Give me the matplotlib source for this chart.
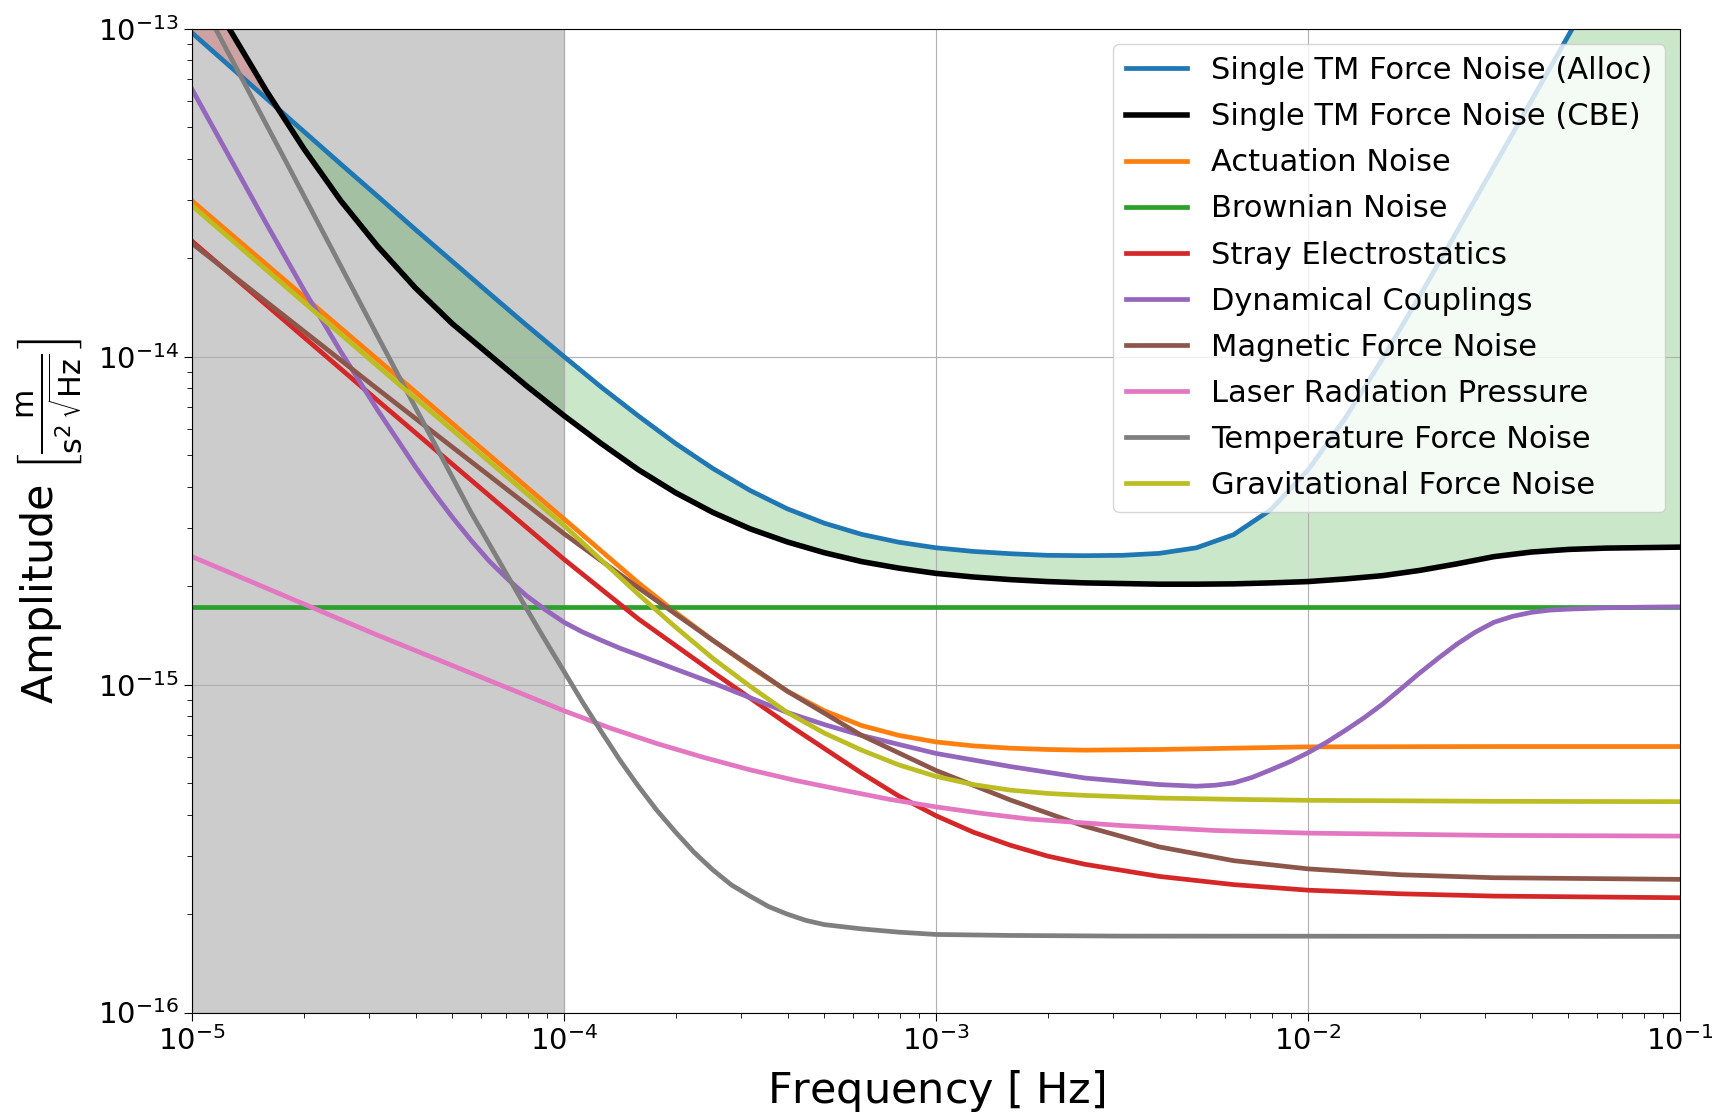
"""Single test-mass force noise budget: allocation vs current best estimate."""

import matplotlib

matplotlib.use("Agg")
import matplotlib.pyplot as plt  # noqa: E402
import numpy as np  # noqa: E402

# values, stored as log10(frequency / Hz), log10(amplitude)
budget_logf = [-5.0, -4.9, -4.8, -4.7, -4.6, -4.5, -4.4, -4.3, -4.2, -4.1, -4.0, -3.9,
               -3.8, -3.7, -3.6, -3.5, -3.4, -3.3, -3.2, -3.1, -3.0, -2.9, -2.8, -2.7,
               -2.6, -2.5, -2.4, -2.3, -2.2, -2.1, -2.0, -1.9, -1.8, -1.7, -1.6, -1.5,
               -1.4, -1.3, -1.2, -1.0]
alloc_log = [-13.013, -13.113, -13.213, -13.313, -13.413, -13.512, -13.612, -13.71,
             -13.808, -13.905, -14.0, -14.093, -14.181, -14.265, -14.341, -14.408,
             -14.464, -14.508, -14.542, -14.566, -14.583, -14.594, -14.601, -14.606,
             -14.607, -14.606, -14.600, -14.583, -14.543, -14.467, -14.346, -14.188,
             -14.007, -13.816, -13.619, -13.420, -13.221, -13.021, -12.821, -12.421]
cbe_log = [-12.80, -13.0, -13.19, -13.365, -13.525, -13.665, -13.79, -13.90, -13.995,
           -14.09, -14.18, -14.265, -14.345, -14.415, -14.475, -14.525, -14.565, -14.598,
           -14.625, -14.645, -14.661, -14.672, -14.68, -14.686, -14.69, -14.692, -14.694,
           -14.694, -14.693, -14.69, -14.686, -14.678, -14.668, -14.652, -14.632, -14.610,
           -14.596, -14.588, -14.584, -14.581]

act_logf = [-5.0, -4.5, -4.0, -3.8, -3.7, -3.6, -3.5, -3.4, -3.3, -3.2, -3.1, -3.0, -2.9,
            -2.8, -2.7, -2.6, -2.4, -2.2, -2.0, -1.5, -1.0]
actuation_log = [-13.525, -14.01, -14.495, -14.69, -14.78, -14.865, -14.945, -15.02, -15.08,
                 -15.125, -15.155, -15.175, -15.187, -15.194, -15.198, -15.2, -15.198,
                 -15.194, -15.19, -15.189, -15.189]

grav_logf = [-5.0, -4.5, -4.0, -3.9, -3.8, -3.7, -3.6, -3.5, -3.4, -3.3, -3.2, -3.1, -3.0,
             -2.9, -2.8, -2.7, -2.6, -2.4, -2.2, -2.0, -1.5, -1.0]
gravitational_log = [-13.54, -14.03, -14.515, -14.62, -14.725, -14.825, -14.92, -15.005,
                     -15.085, -15.148, -15.2, -15.245, -15.28, -15.305, -15.322, -15.332,
                     -15.338, -15.346, -15.35, -15.353, -15.356, -15.357]

mag_logf = [-5.0, -4.5, -4.0, -3.8, -3.6, -3.4, -3.2, -3.0, -2.8, -2.6, -2.4, -2.2, -2.0,
            -1.75, -1.5, -1.0]
magnetic_log = [-13.655, -14.10, -14.54, -14.705, -14.865, -15.02, -15.155, -15.262, -15.352,
                -15.432, -15.495, -15.537, -15.562, -15.58, -15.589, -15.594]

stray_logf = [-5.0, -4.5, -4.0, -3.8, -3.6, -3.4, -3.2, -3.1, -3.0, -2.9, -2.8, -2.7, -2.6,
              -2.4, -2.2, -2.0, -1.75, -1.5, -1.0]
stray_log = [-13.648, -14.135, -14.618, -14.80, -14.962, -15.12, -15.27, -15.34, -15.40,
             -15.45, -15.49, -15.523, -15.548, -15.585, -15.61, -15.627, -15.638, -15.645,
             -15.65]

laser_logf = [-5.0, -4.75, -4.5, -4.25, -4.0, -3.875, -3.75, -3.625, -3.5, -3.375, -3.25,
              -3.125, -3.0, -2.875, -2.75, -2.5, -2.25, -2.0, -1.5, -1.0]
laser_log = [-14.61, -14.73, -14.85, -14.965, -15.08, -15.133, -15.18, -15.222, -15.26,
             -15.293, -15.322, -15.35, -15.373, -15.393, -15.41, -15.43, -15.445, -15.453,
             -15.46, -15.462]

dyn_logf = [-5.0, -4.9, -4.8, -4.7, -4.6, -4.5, -4.4, -4.35, -4.3, -4.25, -4.2, -4.15,
            -4.1, -4.05, -4.0, -3.95, -3.9, -3.85, -3.8, -3.7, -3.6, -3.5, -3.4, -3.3,
            -3.2, -3.0, -2.8, -2.6, -2.4, -2.3, -2.25, -2.2, -2.15, -2.1, -2.05, -2.0,
            -1.95, -1.9, -1.85, -1.8, -1.75, -1.7, -1.65, -1.6, -1.55, -1.5, -1.45, -1.4,
            -1.35, -1.3, -1.2, -1.1, -1.0]
dyn_log = [-13.185, -13.39, -13.595, -13.795, -13.985, -14.165, -14.335, -14.415, -14.49,
           -14.56, -14.625, -14.68, -14.73, -14.772, -14.81, -14.84, -14.865, -14.889,
           -14.91, -14.953, -14.995, -15.04, -15.085, -15.122, -15.155, -15.21, -15.25,
           -15.285, -15.305, -15.31, -15.307, -15.30, -15.283, -15.26, -15.236, -15.208,
           -15.176, -15.14, -15.102, -15.06, -15.013, -14.965, -14.92, -14.877, -14.84,
           -14.81, -14.792, -14.78, -14.773, -14.77, -14.766, -14.764, -14.763]

temp_logf = [-5.0, -4.75, -4.5, -4.25, -4.1, -4.05, -4.0, -3.95, -3.9, -3.85, -3.8, -3.75,
             -3.7, -3.65, -3.6, -3.55, -3.5, -3.45, -3.4, -3.35, -3.3, -3.2, -3.1, -3.0,
             -2.8, -2.5, -1.0]
temp_log = [-12.865, -13.40, -13.94, -14.475, -14.77, -14.866, -14.96, -15.054, -15.143,
            -15.23, -15.31, -15.384, -15.45, -15.512, -15.565, -15.611, -15.645, -15.677,
            -15.70, -15.719, -15.732, -15.745, -15.755, -15.762, -15.765, -15.767, -15.768]

brownian_logf = [-5.0, -1.0]
brownian_log = [-14.764, -14.764]

band_edge = 1e-4  # below this frequency the band is shaded


def lin(vals):
    return 10.0 ** np.asarray(vals)


def main() -> None:
    fig, ax = plt.subplots(figsize=(17.22, 11.14), dpi=100)
    fig.subplots_adjust(left=0.1115, right=0.9756, top=0.9743, bottom=0.0911)

    ax.axvspan(1e-5, band_edge, color="gray", alpha=0.4, zorder=0)

    f = lin(budget_logf)
    alloc = lin(alloc_log)
    cbe = lin(cbe_log)
    ax.fill_between(f, alloc, cbe, where=alloc >= cbe, interpolate=True,
                    color="C2", alpha=0.25, lw=0, zorder=1)
    ax.fill_between(f, alloc, cbe, where=alloc < cbe, interpolate=True,
                    color="C3", alpha=0.25, lw=0, zorder=1)

    lw = 3.4
    ax.plot(f, alloc, color="C0", lw=lw, label="Single TM Force Noise (Alloc)")
    ax.plot(f, cbe, color="k", lw=4, label="Single TM Force Noise (CBE)")
    ax.plot(lin(act_logf), lin(actuation_log), color="C1", lw=lw, label="Actuation Noise")
    ax.plot(lin(brownian_logf), lin(brownian_log), color="C2", lw=lw, label="Brownian Noise")
    ax.plot(lin(stray_logf), lin(stray_log), color="C3", lw=lw, label="Stray Electrostatics")
    ax.plot(lin(dyn_logf), lin(dyn_log), color="C4", lw=lw, label="Dynamical Couplings")
    ax.plot(lin(mag_logf), lin(magnetic_log), color="C5", lw=lw, label="Magnetic Force Noise")
    ax.plot(lin(laser_logf), lin(laser_log), color="C6", lw=lw, label="Laser Radiation Pressure")
    ax.plot(lin(temp_logf), lin(temp_log), color="C7", lw=lw, label="Temperature Force Noise")
    ax.plot(lin(grav_logf), lin(gravitational_log), color="C8", lw=lw,
            label="Gravitational Force Noise")

    ax.set_xscale("log")
    ax.set_yscale("log")
    ax.set_xlim(1e-5, 1e-1)
    ax.set_ylim(1e-16, 1e-13)
    ax.grid(True, which="major")
    ax.tick_params(axis="both", which="major", labelsize=21, length=6)
    ax.tick_params(axis="both", which="minor", length=3.5)

    ax.set_xlabel(r"Frequency $\left[\;\mathrm{Hz}\right]$", fontsize=31, labelpad=9)
    ax.set_ylabel(r"Amplitude $\left[\frac{\mathrm{m}}{\mathrm{s}^2\,\sqrt{\mathrm{Hz}}}\right]$",
                  fontsize=31, labelpad=10)
    ax.legend(loc="upper right", fontsize=22, labelspacing=0.56)

    fig.savefig("out.png", dpi=100)


if __name__ == "__main__":
    main()
